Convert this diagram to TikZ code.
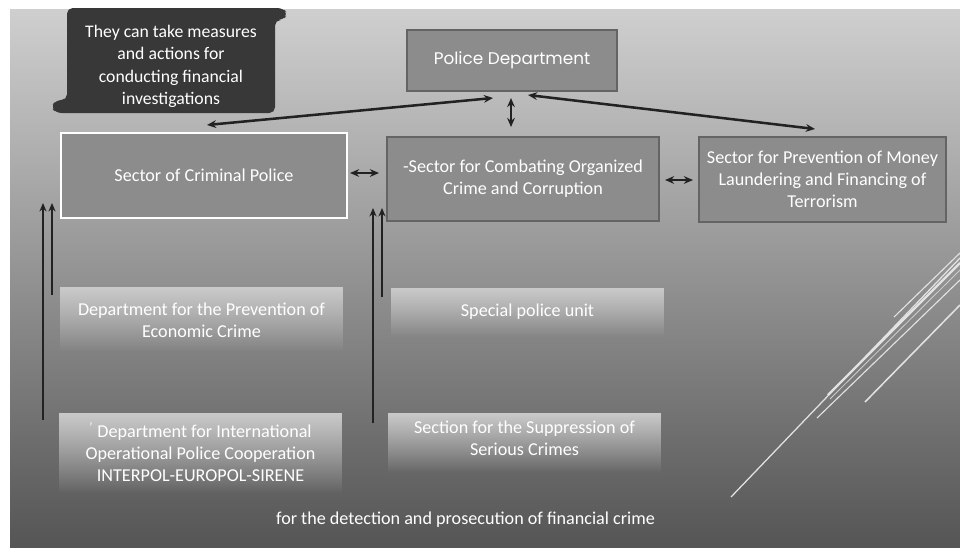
\documentclass[tikz,border=0pt]{standalone}
\usepackage{fontspec}
\setmainfont{Carlito}
\newfontfamily\pdfont{Poppins}
\usetikzlibrary{arrows.meta,calc,fadings}
\definecolor{bgtop}{HTML}{CFCFCF}
\definecolor{bgmid}{HTML}{8E8E8E}
\definecolor{bgbot}{HTML}{555555}
\definecolor{boxfill}{HTML}{8C8C8C}
\definecolor{boxline}{HTML}{646464}
\definecolor{callfill}{HTML}{383838}
\definecolor{arrowc}{HTML}{222222}
\definecolor{gradtop}{HTML}{CACACA}
\definecolor{deco}{HTML}{E2E2E2}
\tikzfading[name=boxfade, top color=transparent!0, middle color=transparent!45, bottom color=transparent!100]
\tikzset{
  txt/.style={text=white, align=center, font=\fontsize{12.9}{15.7}\selectfont},
  sectorbox/.style={txt, rectangle, fill=boxfill, draw=boxline, line width=0.8pt, inner sep=0pt},
  gradbox/.style={rectangle, inner sep=0pt},
  arr/.style={draw=arrowc, line width=1.8pt, -{Stealth[length=6pt,width=5pt]}},
  darr/.style={draw=arrowc, line width=1.8pt, {Stealth[length=6.5pt,width=5.5pt]}-{Stealth[length=6.5pt,width=5.5pt]}},
  decoline/.style={draw=deco, line width=1pt}
}
\begin{document}
\begin{tikzpicture}[x=0.025cm,y=-0.025cm]
\useasboundingbox (0,0) rectangle (960,549);
\fill[white] (0,0) rectangle (960,549);
\shade[top color=bgtop, middle color=bgmid, bottom color=bgbot] (10,9) rectangle (960,547);

% decorative diagonal lines
\begin{scope}
\clip (10,9) rectangle (960,547);
\draw[decoline, line width=0.9pt] (731,497) -- (960,258);
\draw[decoline, line width=1.6pt] (828,395) -- (960,263);
\draw[decoline, line width=0.6pt, draw=deco!80!gray] (830,399) -- (960,270);
\draw[decoline, line width=0.8pt] (817,418) -- (960,280);
\draw[decoline, line width=1.1pt] (865,402) -- (960,305);
\draw[decoline, line width=0.8pt] (894,317) -- (960,253);
\end{scope}

% callout
\fill[callfill, rounded corners=4pt]
  (67,8) -- (283,8) -- (288,14) -- (283,20) -- (275,20) -- (275,113)
  -- (56,113) -- (51,107) -- (56,100) -- (67,100) -- cycle;
\node[txt, font=\fontsize{12.6}{15.9}\selectfont] (callout) at (171,66.5)
  {They can take measures\\and actions for\\conducting financial\\investigations};

% boxes
\node[sectorbox, minimum width=5.25cm, minimum height=1.525cm, font=\pdfont\fontsize{12}{14}\selectfont] (police) at (512,60.5) {Police Department};
\node[sectorbox, draw=white, line width=1.2pt, minimum width=7.15cm, minimum height=2.125cm] (crim) at (204,175.5) {Sector of Criminal Police};
\node[sectorbox, minimum width=6.8cm, minimum height=2.1cm] (comb) at (523,179) {-Sector for Combating Organized\\Crime and Corruption};
\node[sectorbox, minimum width=6.175cm, minimum height=2.125cm] (money) at (822.5,179.5) {Sector for Prevention of Money\\Laundering and Financing of\\Terrorism};

% fading lower boxes
\node[gradbox, minimum width=7.075cm, minimum height=1.6cm, anchor=north] (econ) at (201.5,287) {};
\node[gradbox, minimum width=6.825cm, minimum height=1.2cm, anchor=north] (spec) at (527.5,288) {};
\node[gradbox, minimum width=7.075cm, minimum height=2.0cm, anchor=north] (intl) at (200.5,413) {};
\node[gradbox, minimum width=6.825cm, minimum height=1.475cm, anchor=north] (supp) at (524.5,413) {};
\foreach \b in {econ,spec,intl,supp}
  \fill[gradtop, path fading=boxfade] (\b.north west) rectangle (\b.south east);

\node[txt] (econt) at (201.5,320.5) {Department for the Prevention of\\Economic Crime};
\node[txt] (spect) at (527.5,312) {Special police unit};
\node[txt] (intlt) at (200.5,452) {\textsuperscript{'} Department for International\\Operational Police Cooperation\\INTERPOL-EUROPOL-SIRENE};
\node[txt] (suppt) at (524.5,438) {Section for the Suppression of\\Serious Crimes};

\node[txt] (bottom) at (465.5,520) {for the detection and prosecution of financial crime};

% connector end points
\coordinate (pL) at (493,98);
\coordinate (cT) at (207,125);
\coordinate (pM) at (511,98);
\coordinate (bT) at (511,127);
\coordinate (pR) at (528,95);
\coordinate (mT) at (815,129);
\coordinate (cR) at (350,173);
\coordinate (bL) at (379,173);
\coordinate (bR) at (665,180);
\coordinate (mL) at (693,180);
\coordinate (l1b) at (43,420);
\coordinate (l1t) at (43,203);
\coordinate (l2b) at (52,295);
\coordinate (l2t) at (52,203);
\coordinate (m1b) at (373,423);
\coordinate (m1t) at (373,208);
\coordinate (m2b) at (382,297);
\coordinate (m2t) at (382,208);

\draw[darr] (pL) -- (cT);
\draw[darr] (pM) -- (bT);
\draw[darr] (pR) -- (mT);
\draw[darr] (cR) -- (bL);
\draw[darr] (bR) -- (mL);
\draw[arr] (l1b) -- (l1t);
\draw[arr] (l2b) -- (l2t);
\draw[arr] (m1b) -- (m1t);
\draw[arr] (m2b) -- (m2t);
\end{tikzpicture}
\end{document}
